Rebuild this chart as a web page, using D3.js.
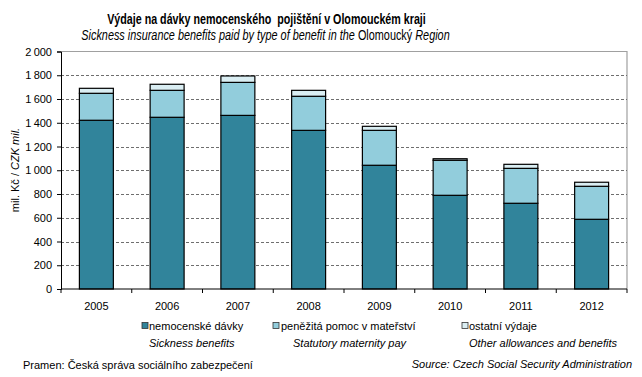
<!DOCTYPE html>
<html>
<head>
<meta charset="utf-8">
<script src="https://cdn.jsdelivr.net/npm/d3@7"></script>
<style>
  body { margin: 0; background: #fff; }
  svg { font-family: "Liberation Sans", Arial, sans-serif; }
</style>
</head>
<body>
<svg width="642" height="377"></svg>
<script>
// data (mil. Kč)
const years = ["2005", "2006", "2007", "2008", "2009", "2010", "2011", "2012"];
const sickness = [1421, 1446, 1462, 1336, 1042, 789, 722, 587];
const maternity = [227, 227, 278, 287, 294, 295, 294, 278];
const other = [42, 51, 54, 50, 34, 13, 34, 34];
const yTicks = [0, 200, 400, 600, 800, 1000, 1200, 1400, 1600, 1800, 2000];

const seriesKeys = ["sick", "mat", "oth"];
const colors = { sick: "#31849b", mat: "#92cddc", oth: "#daeef3" };

const table = years.map((y, i) => ({ year: y, sick: sickness[i], mat: maternity[i], oth: other[i] }));

const plotLeft = 61, plotRight = 627, plotTop = 51.5, plotBottom = 289;

const svg = d3.select("svg");

const x = d3.scaleBand().domain(years).range([plotLeft, plotRight]).paddingInner(0.52).paddingOuter(0.26);
const y = d3.scaleLinear().domain([0, 2000]).range([plotBottom, plotTop]);

// plot area border (gray, top + right)
svg.append("path")
  .attr("d", `M${plotLeft},${plotTop}H${plotRight}V${plotBottom}`)
  .attr("fill", "none")
  .attr("stroke", "#a0a0a0")
  .attr("stroke-width", 1.2);

// dashed gridlines
svg.append("g")
  .selectAll("line")
  .data(yTicks.filter(t => t > 0 && t < 2000))
  .enter().append("line")
  .attr("x1", plotLeft).attr("x2", plotRight)
  .attr("y1", d => Math.round(y(d)) + 0.5).attr("y2", d => Math.round(y(d)) + 0.5)
  .attr("stroke", "#6e6e6e")
  .attr("stroke-dasharray", "3,2");

// stacked bars
const stack = d3.stack().keys(seriesKeys)(table);
svg.append("g")
  .selectAll("g")
  .data(stack)
  .enter().append("g")
  .attr("fill", d => colors[d.key])
  .selectAll("rect")
  .data(d => d)
  .enter().append("rect")
  .attr("x", d => x(d.data.year))
  .attr("y", d => y(d[1]))
  .attr("width", x.bandwidth())
  .attr("height", d => y(d[0]) - y(d[1]))
  .attr("stroke", "#000")
  .attr("stroke-width", 1.2);

// y axis
const fmt = d => d >= 1000 ? d3.format(",")(d).replace(",", "\u2009") : d;
const yAxis = svg.append("g")
  .attr("transform", `translate(${plotLeft},0)`)
  .call(d3.axisLeft(y).tickValues(yTicks).tickFormat(fmt).tickSize(4).tickPadding(5));
yAxis.select(".domain").attr("stroke", "#000");
yAxis.selectAll("text").attr("font-size", "11px").attr("fill", "#000").attr("font-family", "Liberation Sans, Arial");

// x axis: ticks between categories
const xg = svg.append("g").attr("transform", `translate(0,${plotBottom})`);
xg.append("line").attr("x1", plotLeft).attr("x2", plotRight).attr("stroke", "#000");
const bounds = d3.range(years.length + 1).map(i => plotLeft + i * (plotRight - plotLeft) / years.length);
xg.selectAll(".tk").data(bounds).enter().append("line")
  .attr("x1", d => d).attr("x2", d => d).attr("y1", 0).attr("y2", 4).attr("stroke", "#000");
xg.selectAll(".lb").data(years).enter().append("text")
  .attr("x", d => x(d) + x.bandwidth() / 2)
  .attr("y", 21)
  .attr("text-anchor", "middle")
  .attr("font-size", "11px")
  .text(d => d);

// y label
const yl = svg.append("text")
  .attr("transform", "translate(19,170) rotate(-90)")
  .attr("text-anchor", "middle")
  .attr("font-size", "11px");
yl.append("tspan").text("mil. Kč / ");
yl.append("tspan").attr("font-style", "italic").text("CZK mil.");

// titles (narrow look: squeeze horizontally to the reference width)
function squeeze(sel, cx, cy, w) {
  const len = sel.node().getComputedTextLength();
  sel.attr("transform", `translate(${cx},${cy}) scale(${w / len},1)`);
}

const title = svg.append("text")
  .attr("text-anchor", "middle")
  .attr("font-size", "15px")
  .attr("font-weight", "bold")
  .style("white-space", "pre")
  .text("Výdaje na dávky nemocenského  pojištění v Olomouckém kraji");
squeeze(title, 266.5, 24, 319);

const sub = svg.append("text")
  .attr("text-anchor", "middle")
  .attr("font-size", "14.5px");
sub.append("tspan").attr("font-style", "italic").text("Sickness insurance benefits paid by type of benefit in the ");
sub.append("tspan").text("Olomoucký ");
sub.append("tspan").attr("font-style", "italic").text("Region");
squeeze(sub, 265.5, 40, 369);

// legend
const legendItems = [
  { key: "sick", cz: "nemocenské dávky", en: "Sickness benefits", sx: 145, tx: 149, ex: 149 },
  { key: "mat", cz: "peněžitá pomoc v mateřství", en: "Statutory maternity pay", sx: 276, tx: 281, ex: 293 },
  { key: "oth", cz: "ostatní výdaje", en: "Other allowances and benefits", sx: 465, tx: 469, ex: 469 }
];
const lg = svg.append("g");
legendItems.forEach(it => {
  lg.append("rect")
    .attr("x", it.sx - 3).attr("y", 322.5)
    .attr("width", 6).attr("height", 6)
    .attr("fill", colors[it.key])
    .attr("stroke", "#333").attr("stroke-width", 0.8);
  lg.append("text")
    .attr("x", it.tx).attr("y", 329.5)
    .attr("font-size", "11px")
    .text(it.cz);
  lg.append("text")
    .attr("x", it.ex).attr("y", 347)
    .attr("font-size", "11px")
    .attr("font-style", "italic")
    .text(it.en);
});

// sources
svg.append("text")
  .attr("x", 23).attr("y", 369)
  .attr("font-size", "11px")
  .text("Pramen: Česká správa sociálního zabezpečení");
svg.append("text")
  .attr("x", 632).attr("y", 368)
  .attr("text-anchor", "end")
  .attr("font-size", "11px")
  .attr("font-style", "italic")
  .text("Source: Czech Social Security Administration");
</script>
</body>
</html>
